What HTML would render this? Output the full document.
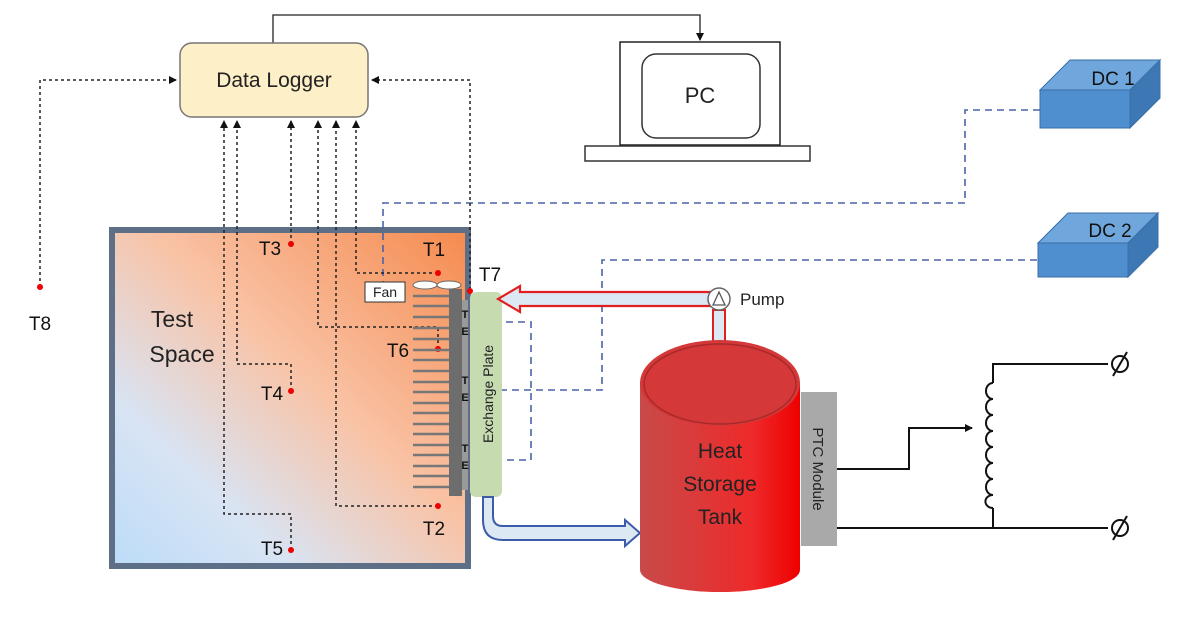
<!DOCTYPE html>
<html><head><meta charset="utf-8"><style>
html,body{margin:0;padding:0;background:#fff;}
svg{display:block;font-family:"Liberation Sans","DejaVu Sans",sans-serif;}
</style></head><body>
<svg width="1200" height="626" viewBox="0 0 1200 626" xmlns="http://www.w3.org/2000/svg">
<defs>
<linearGradient id="ts" x1="1" y1="0" x2="0" y2="1">
<stop offset="0" stop-color="#f58a4e"/><stop offset="0.45" stop-color="#f9c3a6"/><stop offset="0.75" stop-color="#d8e4f4"/><stop offset="1" stop-color="#bcdcf8"/>
</linearGradient>
<linearGradient id="tank" x1="0" y1="0" x2="1" y2="0">
<stop offset="0" stop-color="#c84a4a"/><stop offset="0.7" stop-color="#ee2a2a"/><stop offset="1" stop-color="#e00"/>
</linearGradient>
<marker id="ah" markerWidth="8" markerHeight="8" refX="7" refY="4" orient="auto" markerUnits="userSpaceOnUse"><path d="M0,0 L8,4 L0,8 z" fill="#111"/></marker>
</defs>

<!-- DL to PC -->
<polyline points="273,43 273,15 700,15 700,40" fill="none" stroke="#222" stroke-width="1.3" marker-end="url(#ah)"/>
<rect x="180" y="43" width="188" height="74" rx="12" fill="#fdefc8" stroke="#777" stroke-width="1.5"/>
<text x="274" y="87" font-size="21" text-anchor="middle" fill="#222">Data Logger</text>

<!-- PC -->
<rect x="620" y="42" width="160" height="103" fill="#fff" stroke="#222" stroke-width="1.5"/>
<rect x="642" y="54" width="118" height="84" rx="14" fill="#fff" stroke="#333" stroke-width="1.5"/>
<text x="700" y="103" font-size="22" text-anchor="middle" fill="#222">PC</text>
<rect x="585" y="146" width="225" height="15" fill="#fff" stroke="#333" stroke-width="1.5"/>

<!-- DC boxes -->
<g stroke="#3a6fa8" stroke-width="1">
<polygon points="1040,90 1070,60 1160,60 1130,90" fill="#6fa6dc"/>
<rect x="1040" y="90" width="90" height="38" fill="#4f8fcf"/>
<polygon points="1130,90 1160,60 1160,98 1130,128" fill="#3d78b5"/>
<polygon points="1038,243 1068,213 1158,213 1128,243" fill="#6fa6dc"/>
<rect x="1038" y="243" width="90" height="34" fill="#4f8fcf"/>
<polygon points="1128,243 1158,213 1158,247 1128,277" fill="#3d78b5"/>
</g>
<text x="1113" y="85" font-size="19" text-anchor="middle" fill="#111">DC 1</text>
<text x="1110" y="237" font-size="19" text-anchor="middle" fill="#111">DC 2</text>

<!-- Test space -->
<rect x="112" y="230" width="356" height="336" fill="url(#ts)" stroke="#5d6f86" stroke-width="6"/>

<!-- blue dashed -->
<g fill="none" stroke="#4a62a8" stroke-width="1.6" stroke-dasharray="7,5">
<polyline points="1040,110 965,110 965,203 383,203 383,282"/>
<polyline points="1037,260 602,260 602,390 470,390"/>
<polyline points="470,322 531,322 531,460 470,460"/>
</g>

<!-- black dotted sensor lines -->
<g fill="none" stroke="#222" stroke-width="1.5" stroke-dasharray="3,3">
<polyline points="40,287 40,80 176,80" marker-end="url(#ah)"/>
<polyline points="470,290 470,80 372,80" marker-end="url(#ah)"/>
<polyline points="291,244 291,121" marker-end="url(#ah)"/>
<polyline points="438,273 356,273 356,121" marker-end="url(#ah)"/>
<polyline points="438,349 438,327 318,327 318,121" marker-end="url(#ah)"/>
<polyline points="291,391 291,364 237,364 237,121" marker-end="url(#ah)"/>
<polyline points="291,550 291,514 224,514 224,121" marker-end="url(#ah)"/>
<polyline points="438,506 336,506 336,121" marker-end="url(#ah)"/>
</g>
<g fill="#e00">
<circle cx="40" cy="287" r="3"/><circle cx="291" cy="244" r="3"/><circle cx="438" cy="273" r="3"/>
<circle cx="438" cy="349" r="3"/><circle cx="291" cy="391" r="3"/><circle cx="291" cy="550" r="3"/>
<circle cx="438" cy="506" r="3"/><circle cx="470" cy="291" r="3"/>
</g>

<!-- fins -->
<g stroke="#777" stroke-width="2.5">
<line x1="413" y1="296" x2="450" y2="296"/><line x1="413" y1="306" x2="450" y2="306"/><line x1="413" y1="317" x2="450" y2="317"/>
<line x1="413" y1="328" x2="450" y2="328"/><line x1="413" y1="339" x2="450" y2="339"/><line x1="413" y1="350" x2="450" y2="350"/>
<line x1="413" y1="360" x2="450" y2="360"/><line x1="413" y1="371" x2="450" y2="371"/><line x1="413" y1="382" x2="450" y2="382"/>
<line x1="413" y1="392" x2="450" y2="392"/><line x1="413" y1="403" x2="450" y2="403"/><line x1="413" y1="413" x2="450" y2="413"/>
<line x1="413" y1="424" x2="450" y2="424"/><line x1="413" y1="434" x2="450" y2="434"/><line x1="413" y1="445" x2="450" y2="445"/>
<line x1="413" y1="455" x2="450" y2="455"/><line x1="413" y1="466" x2="450" y2="466"/><line x1="413" y1="476" x2="450" y2="476"/>
<line x1="413" y1="487" x2="450" y2="487"/>
</g>
<rect x="449" y="289" width="13" height="207" fill="#6d6d6d"/>
<rect x="462" y="300" width="6" height="190" fill="#9a9a9a"/>
<g font-size="11" fill="#111" text-anchor="middle" font-weight="bold">
<text x="465" y="318">T</text><text x="465" y="335">E</text>
<text x="465" y="384">T</text><text x="465" y="401">E</text>
<text x="465" y="452">T</text><text x="465" y="469">E</text>
</g>
<ellipse cx="425" cy="285" rx="12" ry="4" fill="#fff" stroke="#666"/>
<ellipse cx="449" cy="285" rx="12" ry="4" fill="#fff" stroke="#666"/>
<rect x="365" y="282" width="40" height="20" fill="#fff" stroke="#333"/>
<text x="385" y="297" font-size="14" text-anchor="middle" fill="#222">Fan</text>

<!-- exchange plate -->
<rect x="470" y="292" width="32" height="205" rx="6" fill="#c6dcb0"/>
<text transform="translate(493,394) rotate(-90)" font-size="14" text-anchor="middle" fill="#222">Exchange Plate</text>

<!-- red pipe -->
<path d="M720,292 L520,292 L520,286 L498,299 L520,312 L520,306 L720,306" fill="#dde8f5" stroke="#e02020" stroke-width="2.2"/>
<rect x="713" y="310" width="12" height="32" fill="#dde8f5" stroke="#e02020" stroke-width="2"/>
<circle cx="719" cy="299" r="11" fill="#fff" stroke="#666" stroke-width="1.5"/>
<polygon points="713,305 719,292 725,305" fill="none" stroke="#555" stroke-width="1.3"/>
<text x="740" y="305" font-size="17" fill="#222">Pump</text>

<!-- blue pipe -->
<path d="M483,497 L483,520 Q483,540 503,540 L625,540 L625,546 L640,533 L625,520 L625,526 L503,526 Q493,526 493,516 L493,497 Z" fill="#dde8f5" stroke="#3c5ba8" stroke-width="2"/>

<!-- tank -->
<path d="M640,383 L640,570 A80,22 0 0 0 800,570 L800,383 Z" fill="url(#tank)"/>
<ellipse cx="720" cy="383" rx="80" ry="43" fill="#d43838"/>
<ellipse cx="720" cy="384" rx="76" ry="40" fill="none" stroke="#a82a2a" stroke-width="1.5"/>
<text x="720" y="458" font-size="21" text-anchor="middle" fill="#222">Heat</text>
<text x="720" y="491" font-size="21" text-anchor="middle" fill="#222">Storage</text>
<text x="720" y="524" font-size="21" text-anchor="middle" fill="#222">Tank</text>
<rect x="801" y="392" width="36" height="154" fill="#a9a9a9"/>
<text transform="translate(813,469) rotate(90)" font-size="15" text-anchor="middle" fill="#222">PTC Module</text>

<!-- circuit -->
<g fill="none" stroke="#111" stroke-width="2">
<polyline points="837,469 909,469 909,428 972,428" marker-end="url(#ah)"/>
<polyline points="993,383 993,364 1108,364"/>
<polyline points="837,528 1108,528"/>
<polyline points="993,508 993,528"/>
<path d="M993,383 a7,8 0 0 0 0,16 a7,8 0 0 0 0,16 a7,8 0 0 0 0,16 a7,8 0 0 0 0,16 a7,8 0 0 0 0,16 a7,8 0 0 0 0,16 a7,8 0 0 0 0,16 a7,6 0 0 0 0,13"/>
<circle cx="1120" cy="364" r="8"/><line x1="1113" y1="376" x2="1127" y2="352"/>
<circle cx="1120" cy="528" r="8"/><line x1="1113" y1="540" x2="1127" y2="516"/>
</g>

<!-- labels -->
<g font-size="19" fill="#111" text-anchor="middle">
<text x="40" y="330">T8</text>
<text x="270" y="255">T3</text>
<text x="434" y="256">T1</text>
<text x="490" y="281">T7</text>
<text x="398" y="357">T6</text>
<text x="272" y="400">T4</text>
<text x="434" y="535">T2</text>
<text x="272" y="555">T5</text>
</g>
<text x="172" y="327" font-size="23" text-anchor="middle" fill="#222">Test</text>
<text x="182" y="362" font-size="23" text-anchor="middle" fill="#222">Space</text>
</svg>
</body></html>
